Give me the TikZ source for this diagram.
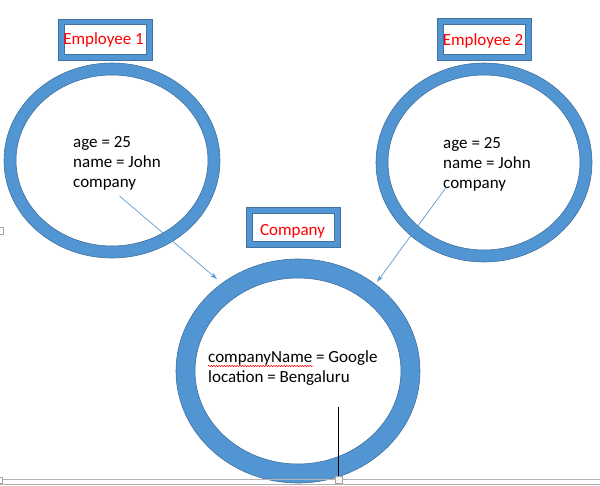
\documentclass[tikz,border=0pt]{standalone}
\usepackage{fontspec}
\setmainfont{Carlito}
\usetikzlibrary{arrows.meta,decorations.pathmorphing}
\definecolor{ringblue}{HTML}{5295D3}
\definecolor{ringline}{HTML}{41719C}
\definecolor{linkblue}{HTML}{5B9BD5}
\begin{document}
\begin{tikzpicture}[x=1pt,y=-1pt,
  ring/.style={fill=ringblue, draw=ringline, line width=0.6pt, even odd rule},
  titletext/.style={text=red, font=\fontsize{17}{20}\selectfont, inner sep=0pt, anchor=base},
  bodytext/.style={text=black, font=\fontsize{17}{20}\selectfont, inner sep=0pt, anchor=base west, align=left},
  link/.style={draw=linkblue, line width=0.7pt, -{Stealth[length=7pt,width=4.5pt]}},
  grayline/.style={draw=gray!60, line width=0.6pt}
]
\useasboundingbox (0,0) rectangle (600,485);
\fill[white] (0,0) rectangle (600,485);

% rings
\path[ring] (112,160.5) ellipse [x radius=108pt, y radius=97.5pt]
            (112,160.5) ellipse [x radius=96pt, y radius=85.5pt];
\path[ring] (484,162.5) ellipse [x radius=108pt, y radius=99.5pt]
            (484,162.5) ellipse [x radius=96pt, y radius=87.5pt];
\path[ring] (298,371) ellipse [x radius=122pt, y radius=112pt]
            (298,371) ellipse [x radius=103pt, y radius=93pt];

% title boxes
\path[ring] (58,19) rectangle (152,60) (64,24.5) rectangle (146,54.5);
\path[ring] (437,18.5) rectangle (531,60) (443,24) rectangle (525,54.5);
\path[ring] (246,207) rectangle (340,247) (252,213) rectangle (334,241.5);

\node[titletext] (t1) at (103.5,44) {Employee 1};
\node[titletext] (t2) at (483,45) {Employee 2};
\node[titletext] (t3) at (292.5,235) {Company};

% body texts (base anchor = baseline of last line)
\node[bodytext] (e1) at (73,187) {age = 25\\name = John\\company};
\node[bodytext] (e2) at (443,188) {age = 25\\name = John\\company};
\node[bodytext] (c1) at (208,382) {companyName = Google\\location = Bengaluru};
\draw[red, line width=0.5pt, decorate, decoration={snake, amplitude=0.7pt, segment length=2.6pt}]
  (208,366) -- (313,366);

% links
\coordinate (a1s) at (119.5,196);
\coordinate (a1e) at (217,279);
\coordinate (a2s) at (446,187.5);
\coordinate (a2e) at (377,282);
\draw[link] (a1s) -- (a1e);
\draw[link] (a2s) -- (a2e);

% bottom rulers
\draw[grayline] (0,479) -- (600,479);
\draw[grayline] (0,484) -- (600,484);
\node[draw=gray!70, fill=gray!8, line width=0.5pt, minimum size=7pt, inner sep=0pt] (sq) at (338.5,480) {};
\coordinate (vtop) at (338.5,407);
\draw[black, line width=0.8pt] (vtop) -- (sq.north);
\node[draw=gray!70, fill=white, line width=0.5pt, minimum width=4pt, minimum height=7pt, inner sep=0pt] (lm1) at (1,230.5) {};
\node[draw=gray!70, fill=white, line width=0.5pt, minimum width=3pt, minimum height=6pt, inner sep=0pt] (lm2) at (0.5,480) {};
\end{tikzpicture}
\end{document}
